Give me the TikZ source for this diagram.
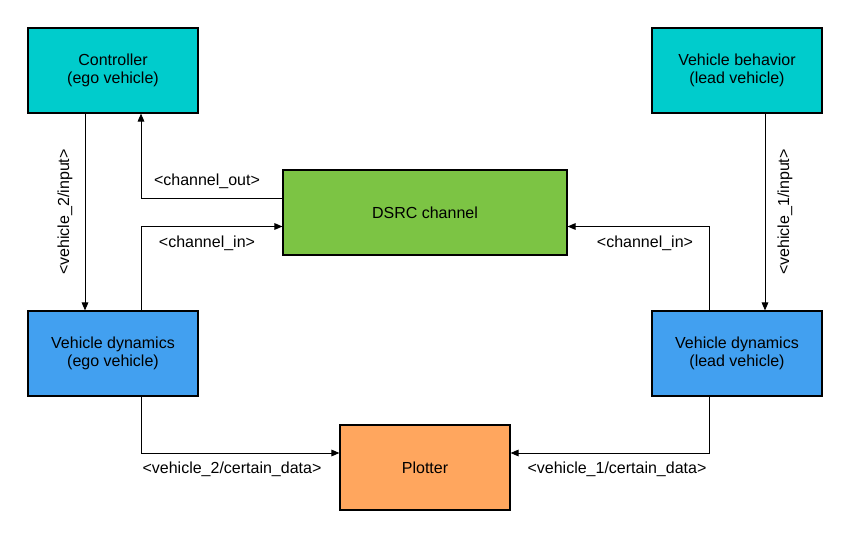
\documentclass[tikz,border=0pt]{standalone}
\usepackage{fontspec}
\setmainfont{Liberation Sans}
\usetikzlibrary{positioning,calc,arrows.meta}
\definecolor{ctrlcyan}{RGB}{0,204,204}
\definecolor{dsrcgreen}{RGB}{124,196,68}
\definecolor{dynblue}{RGB}{66,160,240}
\definecolor{plotorange}{RGB}{255,166,94}
\tikzset{
  block/.style={draw=black, line width=0.9pt, minimum width=127.5pt, minimum height=63.75pt,
    align=center, font=\fontsize{12}{13.5}\selectfont, inner sep=2pt},
  lbl/.style={font=\fontsize{12}{13.5}\selectfont, inner sep=1pt},
  arr/.style={-{Triangle[length=6pt,width=5pt]}, line width=0.75pt}
}

\begin{document}
\begin{tikzpicture}[x=0.75pt, y=-0.75pt]
          \useasboundingbox (0,0) rectangle (851,539);
          \node[block, fill=ctrlcyan] (ctrl) at (113,70.5) {Controller\\(ego vehicle)};
          \node[block, fill=ctrlcyan] (vbeh) at (737,70.5) {Vehicle behavior\\(lead vehicle)};
          \node[block, fill=dsrcgreen, minimum width=213pt] (dsrc) at (425,212.5) {DSRC channel};
          \node[block, fill=dynblue] (vdego) at (113,353.5) {Vehicle dynamics\\(ego vehicle)};
          \node[block, fill=dynblue] (vdlead) at (737,353.5) {Vehicle dynamics\\(lead vehicle)};
          \node[block, fill=plotorange] (plot) at (425,467.5) {Plotter};
          \draw[arr] ($(ctrl.south)+(-28,0)$) -- ($(vdego.north)+(-28,0)$);
          \draw[arr] ($(dsrc.west)+(0,-14.5)$) -| ($(ctrl.south)+(28,0)$);
          \draw[arr] ($(vdego.north)+(28,0)$) |- ($(dsrc.west)+(0,14)$);
          \draw[arr] ($(vbeh.south)+(28,0)$) -- ($(vdlead.north)+(28,0)$);
          \draw[arr] ($(vdlead.north)+(-28,0)$) |- ($(dsrc.east)+(0,14)$);
          \draw[arr] ($(vdego.south)+(28,0)$) |- ($(plot.west)+(0,-14.5)$);
          \draw[arr] ($(vdlead.south)+(-28,0)$) |- ($(plot.east)+(0,-14.5)$);
          \node[lbl, rotate=90] (in2) at (65,212) {<vehicle\_2/input>};
          \node[lbl, rotate=90] (in1) at (785,212) {<vehicle\_1/input>};
          \node[lbl] (chout) at (207,181) {<channel\_out>};
          \node[lbl] (chinl) at (207,243) {<channel\_in>};
          \node[lbl] (chinr) at (645,243) {<channel\_in>};
          \node[lbl] (data2) at (232,469) {<vehicle\_2/certain\_data>};
          \node[lbl] (data1) at (617,469) {<vehicle\_1/certain\_data>};
        \end{tikzpicture}
\end{document}
